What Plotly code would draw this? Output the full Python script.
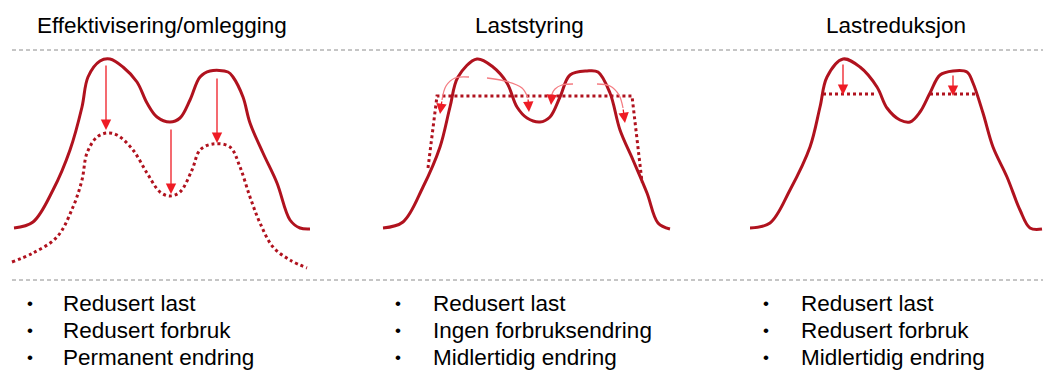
import plotly.graph_objects as go

# ---------------- data (pixel-space schematic coordinates) ----------------
titles = ["Effektivisering/omlegging", "Laststyring", "Lastreduksjon"]
title_x = [162, 529, 896]

bullets = [
    ["Redusert last", "Redusert forbruk", "Permanent endring"],
    ["Redusert last", "Ingen forbruksendring", "Midlertidig endring"],
    ["Redusert last", "Redusert forbruk", "Midlertidig endring"],
]
bullet_x = [30, 398, 766]
bullet_text_x = [61, 431, 799]
bullet_y = [303, 330, 357]

# Panel 1 load curves
p1_solid_x = [14, 33, 53, 70, 82, 88, 100, 110, 123, 137, 147, 157, 170, 180, 190, 200, 210, 228, 233, 243, 250, 263, 277, 290, 300, 310]
p1_solid_y = [228, 222, 190, 150, 107, 77, 61, 59, 67, 82, 103, 117, 122, 118, 100, 77, 71, 72, 77, 97, 123, 153, 183, 220, 228, 229]
p1_dot_x = [12, 33, 57, 73, 82, 87, 97, 107, 117, 133, 147, 160, 170, 180, 192, 200, 213, 230, 240, 250, 260, 273, 290, 307]
p1_dot_y = [262, 253, 237, 207, 180, 153, 137, 133, 135, 150, 173, 192, 196, 192, 170, 150, 144, 147, 167, 197, 223, 247, 260, 268]
p1_arrow_x0 = [106, 171, 217]
p1_arrow_y0 = [64, 128, 77]
p1_arrow_x1 = [106, 171, 217]
p1_arrow_y1 = [130, 194, 143]

# Panel 2 load curves
p2_solid_x = [383, 403, 423, 440, 450, 458, 477, 493, 507, 517, 527, 540, 550, 560, 570, 587, 598, 610, 620, 633, 647, 658, 670]
p2_solid_y = [228, 222, 187, 147, 107, 77, 59, 67, 83, 107, 118, 122, 117, 97, 75, 71, 72, 93, 130, 160, 193, 223, 229]
p2_dot_x = [428, 437, 632, 642]
p2_dot_y = [168, 96, 96, 182]
p2_curve1_x = [469, 455, 446, 442]
p2_curve1_y = [77, 78, 86, 100]
p2_curve2_x = [487, 505, 522, 528]
p2_curve2_y = [78, 81, 88, 98]
p2_curve3_x = [573, 562, 555, 552]
p2_curve3_y = [84, 85, 89, 94]
p2_curve4_x = [597, 610, 619, 623]
p2_curve4_y = [84, 86, 95, 108]
p2_head_x0 = [442, 528, 552, 623]
p2_head_y0 = [100, 98, 94, 108]
p2_head_x1 = [440, 529, 551, 625]
p2_head_y1 = [114, 112, 105, 123]

# Panel 3 load curves
p3_solid_x = [750, 770, 790, 810, 820, 827, 843, 860, 877, 887, 900, 910, 920, 930, 940, 953, 967, 973, 983, 993, 1007, 1020, 1030, 1042]
p3_solid_y = [228, 223, 190, 147, 107, 77, 59, 67, 87, 108, 120, 122, 112, 93, 75, 71, 72, 83, 113, 147, 177, 210, 228, 229]
p3_dot1_x = [823, 875]
p3_dot1_y = [94, 94]
p3_dot2_x = [930, 977]
p3_dot2_y = [94, 94]
p3_arrow_x0 = [843, 953]
p3_arrow_y0 = [63, 74]
p3_arrow_x1 = [843, 953]
p3_arrow_y1 = [95, 96]

guide_x = [12, 1043]
guide_top_y = [50, 50]
guide_bot_y = [280, 280]

# ---------------- styles ----------------
DARK = "#B0121E"
BRIGHT = "#EE1C25"
LIGHT = "#F47C82"
FONT = "Liberation Sans, Arial, sans-serif"

fig = go.Figure()

def line(x, y, color=DARK, width=3, dash="solid", shape="spline"):
    fig.add_trace(go.Scatter(x=x, y=y, mode="lines",
                             line=dict(color=color, width=width, dash=dash, shape=shape,
                                       smoothing=1.0),
                             hoverinfo="skip", showlegend=False))

# guide lines
line(guide_x, guide_top_y, color="#8C8C8C", width=1, dash="4px,3px", shape="linear")
line(guide_x, guide_bot_y, color="#8C8C8C", width=1, dash="4px,3px", shape="linear")

# panel 1
line(p1_solid_x, p1_solid_y)
line(p1_dot_x, p1_dot_y, dash="dot")
# panel 2
line(p2_solid_x, p2_solid_y)
line(p2_dot_x, p2_dot_y, dash="dot", shape="linear")
for cx, cy in [(p2_curve1_x, p2_curve1_y), (p2_curve2_x, p2_curve2_y),
               (p2_curve3_x, p2_curve3_y), (p2_curve4_x, p2_curve4_y)]:
    line(cx, cy, color=LIGHT, width=1.3)
# panel 3
line(p3_solid_x, p3_solid_y)
line(p3_dot1_x, p3_dot1_y, dash="dot", shape="linear")
line(p3_dot2_x, p3_dot2_y, dash="dot", shape="linear")

annotations = []

def arrow(x0, y0, x1, y1, width=1.3):
    annotations.append(dict(x=x1, y=y1, ax=x0, ay=y0, xref="x", yref="y",
                            axref="x", ayref="y", showarrow=True, text="",
                            arrowhead=2, arrowsize=1.6, arrowwidth=width,
                            arrowcolor=BRIGHT, standoff=0, startstandoff=0))

for i in range(len(p1_arrow_x0)):
    arrow(p1_arrow_x0[i], p1_arrow_y0[i], p1_arrow_x1[i], p1_arrow_y1[i])
for i in range(len(p2_head_x0)):
    arrow(p2_head_x0[i], p2_head_y0[i], p2_head_x1[i], p2_head_y1[i])
for i in range(len(p3_arrow_x0)):
    arrow(p3_arrow_x0[i], p3_arrow_y0[i], p3_arrow_x1[i], p3_arrow_y1[i])

for t, tx in zip(titles, title_x):
    annotations.append(dict(x=tx, y=25, xref="x", yref="y", text=t, showarrow=False,
                            xanchor="center", yanchor="middle",
                            font=dict(family=FONT, size=22.5, color="#000000")))

for col in range(3):
    for row in range(3):
        annotations.append(dict(x=bullet_x[col], y=bullet_y[row], xref="x", yref="y",
                                text="•", showarrow=False, xanchor="center", yanchor="middle",
                                font=dict(family=FONT, size=17, color="#000000")))
        annotations.append(dict(x=bullet_text_x[col], y=bullet_y[row], xref="x", yref="y",
                                text=bullets[col][row], showarrow=False,
                                xanchor="left", yanchor="middle",
                                font=dict(family=FONT, size=22.5, color="#000000")))

fig.update_layout(
    width=1043, height=372,
    margin=dict(l=0, r=0, t=0, b=0),
    paper_bgcolor="white", plot_bgcolor="white",
    xaxis=dict(range=[0, 1043], visible=False, fixedrange=True),
    yaxis=dict(range=[372, 0], visible=False, fixedrange=True),
    annotations=annotations,
    showlegend=False,
)

fig.write_html("out.html", config={"displayModeBar": False},
               post_script="document.body.style.margin='0';document.body.style.padding='0';")
